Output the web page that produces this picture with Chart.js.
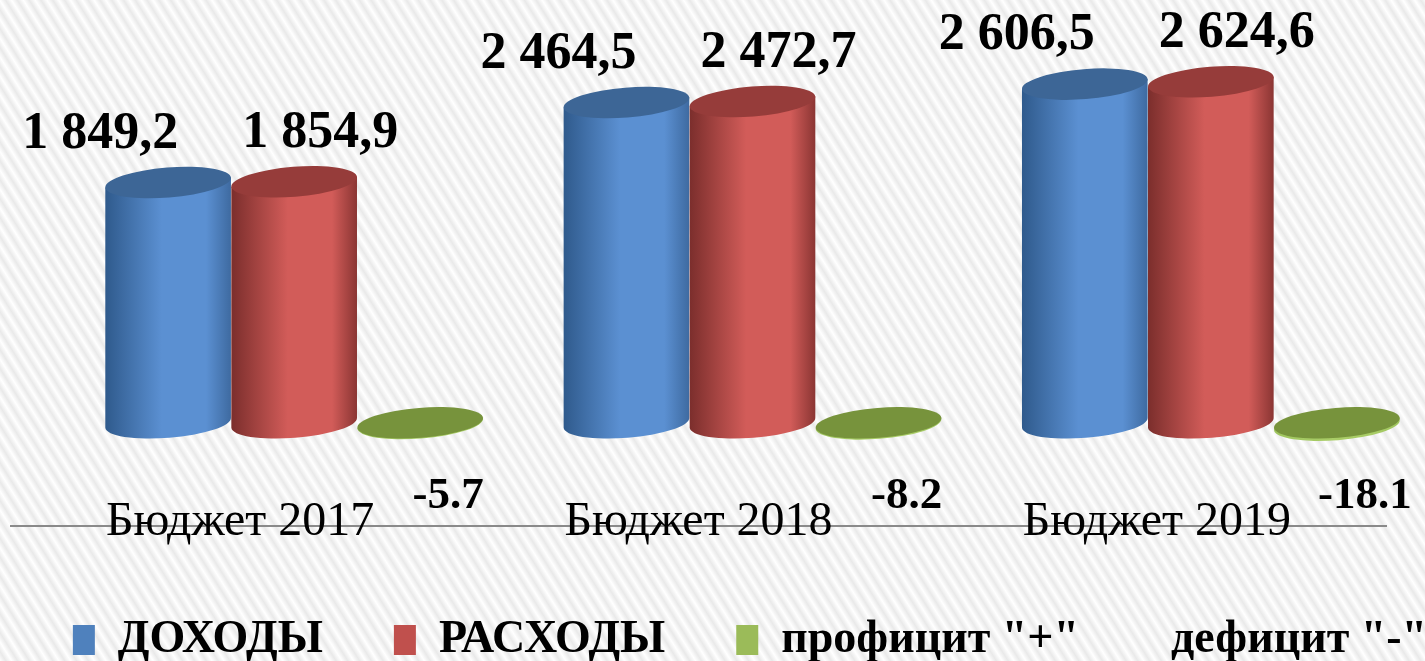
<!DOCTYPE html>
<html lang="ru">
<head>
  <meta charset="UTF-8" />
  <title>Бюджет 2017–2019</title>
  <script src="https://cdn.jsdelivr.net/npm/chart.js"></script>
  <style>
    html, body {
      margin: 0;
      padding: 0;
      width: 1425px;
      height: 661px;
      overflow: hidden;
      background: repeating-linear-gradient(58deg, #ffffff 0px, #e9e9e9 5px, #ffffff 10px);
    }
    canvas { display: block; }
  </style>
</head>
<body>
  <canvas id="budgetChart" width="1500" height="661"></canvas>

  <script>
    const categories = ['Бюджет 2017', 'Бюджет 2018', 'Бюджет 2019'];
    const dohody = [1849.2, 2464.5, 2606.5];
    const rashody = [1854.9, 2472.7, 2624.6];
    const saldo = [-5.7, -8.2, -18.1];

    const serif = '"Liberation Serif", "Times New Roman", serif';
    const DEPTH_X = 54;   // 3d shift of the cylinders against the axis
    const RY = 15;        // half height of the ellipses
    const ROT = -0.08;    // slight tilt of the ellipses

    const shades = [
      { dark: '#2f5a8c', light: '#5b90d2', right: '#3e6aa0', top: '#3d6696' },
      { dark: '#7b2e2c', light: '#d25c59', right: '#8a3533', top: '#963c3a' },
      { dark: '#9fc55f', light: '#a8cc66', right: '#9fc55f', top: '#77933c' }
    ];

    function fmtRu(v) {
      const [i, d] = v.toFixed(1).split('.');
      return i.replace(/\B(?=(\d{3})+(?!\d))/g, ' ') + ',' + d;
    }

    const cylinders = {
      id: 'cylinders',
      beforeDatasetDraw() { return false; },
      afterDatasetsDraw(chart) {
        const ctx = chart.ctx;
        chart.data.datasets.forEach((ds, di) => {
          const meta = chart.getDatasetMeta(di);
          const c = shades[di];
          meta.data.forEach(bar => {
            const cx = bar.x + DEPTH_X;
            const rx = bar.width / 2;
            const top = Math.min(bar.y, bar.base);
            const bottom = Math.max(bar.y, bar.base);
            const ex = rx * Math.cos(ROT), ey = rx * Math.sin(ROT);
            ctx.save();
            const g = ctx.createLinearGradient(cx - rx, 0, cx + rx, 0);
            g.addColorStop(0, c.dark);
            g.addColorStop(0.45, c.light);
            g.addColorStop(0.8, c.light);
            g.addColorStop(1, c.right);
            ctx.beginPath();
            ctx.moveTo(cx - ex, top - ey);
            ctx.lineTo(cx - ex, bottom - ey);
            ctx.ellipse(cx, bottom, rx, RY, ROT, Math.PI, 0, true);
            ctx.lineTo(cx + ex, top + ey);
            ctx.closePath();
            ctx.fillStyle = g;
            ctx.fill();
            ctx.beginPath();
            ctx.ellipse(cx, top, rx, RY, ROT, 0, Math.PI * 2);
            ctx.fillStyle = c.top;
            ctx.fill();
            ctx.restore();
          });
        });
      }
    };

    const valueLabels = {
      id: 'valueLabels',
      afterDatasetsDraw(chart) {
        const ctx = chart.ctx;
        ctx.save();
        ctx.fillStyle = '#000';
        ctx.textAlign = 'center';
        ctx.textBaseline = 'alphabetic';
        chart.data.datasets.forEach((ds, di) => {
          const meta = chart.getDatasetMeta(di);
          meta.data.forEach((bar, i) => {
            const v = ds.data[i];
            const cx = bar.x + DEPTH_X + ds.labelDx;
            if (v >= 0) {
              ctx.font = 'bold 52px ' + serif;
              ctx.fillText(fmtRu(v), cx, bar.y - RY - 20);
            } else {
              ctx.font = 'bold 45px ' + serif;
              ctx.fillText(v.toFixed(1), cx, bar.base + 85);
            }
          });
        });
        ctx.restore();
      }
    };

    const blankAxis = w => ({
      display: true,
      grid: { display: false },
      border: { display: false },
      ticks: { display: false },
      afterFit: s => { s.width = w; }
    });

    new Chart(document.getElementById('budgetChart'), {
      type: 'bar',
      data: {
        labels: categories,
        datasets: [
          { label: 'ДОХОДЫ', data: dohody, backgroundColor: '#4f81bd', borderWidth: 0, labelDx: -68 },
          { label: 'РАСХОДЫ', data: rashody, backgroundColor: '#c0504d', borderWidth: 0, labelDx: 26 },
          { label: 'профицит "+"\u00A0\u00A0\u00A0\u00A0\u00A0\u00A0\u00A0\u00A0дефицит "-"', data: saldo, backgroundColor: '#9bbb59', borderWidth: 0, labelDx: 28 }
        ]
      },
      options: {
        responsive: false,
        animation: false,
        categoryPercentage: 0.825,
        barPercentage: 1.0,
        layout: { padding: { left: 0, right: 0, top: 0, bottom: -12 } },
        scales: {
          y: Object.assign(blankAxis(11), { position: 'left', min: -794, max: 3254 }),
          y2: Object.assign(blankAxis(114), { position: 'right', min: 0, max: 1 }),
          x: {
            grid: { display: false, drawTicks: false },
            border: { display: true, color: '#8a8a8a', width: 2 },
            ticks: { color: '#000', mirror: true, padding: -25, font: { family: serif, size: 48 } },
            afterFit: s => { s.height = 89; }
          }
        },
        plugins: {
          legend: {
            position: 'bottom',
            labels: {
              color: '#000',
              boxWidth: 22,
              boxHeight: 30,
              padding: 2,
              font: { family: serif, size: 46, weight: 'bold' },
              generateLabels: chart => {
                const items = Chart.defaults.plugins.legend.labels.generateLabels(chart);
                return items.map((it, k) => {
                  if (k < items.length - 1) it.text = it.text + '\u00A0'.repeat(6);
                  return it;
                });
              }
            }
          },
          tooltip: { enabled: false }
        }
      },
      plugins: [cylinders, valueLabels]
    });
  </script>
</body>
</html>
